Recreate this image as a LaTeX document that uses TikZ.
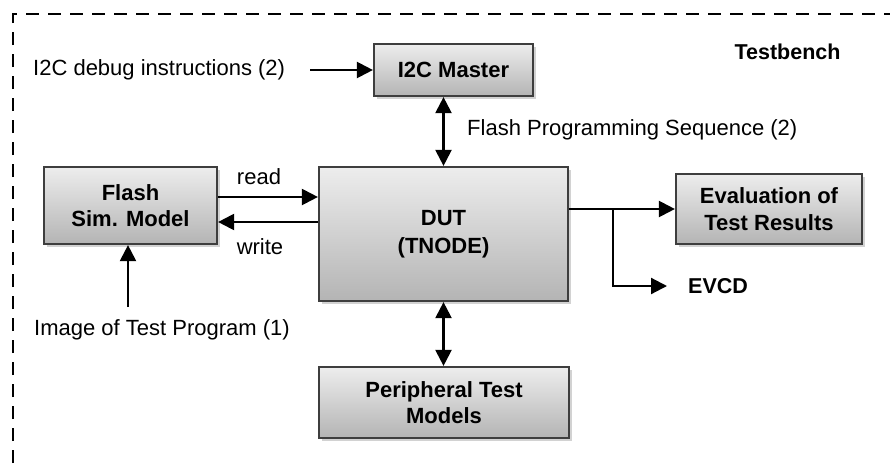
\documentclass[tikz,border=0pt]{standalone}
\usepackage{fontspec}
\setmainfont{Liberation Sans}
\usetikzlibrary{arrows.meta,shadows}
\definecolor{boxtop}{HTML}{EDEDED}
\definecolor{boxbot}{HTML}{B4B4B4}
\definecolor{boxline}{HTML}{3E3E3E}
\begin{document}
\begin{tikzpicture}[x=1pt,y=-1pt,
  box/.style={draw=boxline, line width=2.2pt, top color=boxtop, bottom color=boxbot,
    drop shadow={shadow xshift=2.5pt,shadow yshift=-2.5pt,opacity=0.35},
    font=\bfseries\fontsize{22}{26.5}\selectfont, align=center, inner sep=0pt},
  arr/.style={line width=2.2pt, -{Triangle[length=16pt,width=16pt]}},
  darr/.style={line width=2.2pt, {Triangle[length=16pt,width=16pt]}-{Triangle[length=16pt,width=16pt]}},
  lbl/.style={font=\fontsize{22}{26}\selectfont, inner sep=0pt},
  blbl/.style={font=\bfseries\fontsize{21.5}{26}\selectfont, inner sep=0pt}]
\useasboundingbox (0,0) rectangle (890,463);
\fill[white] (0,0) rectangle (890,463);
% testbench border (right and bottom edges lie outside the picture)
\draw[line width=2.2pt, dash pattern=on 13pt off 9pt] (13,463) -- (13,14) -- (890,14);

% boxes
\node[box, minimum width=159pt, minimum height=52pt] (i2c) at (453.5,70) {I2C Master};
\node[box, minimum width=173pt, minimum height=77pt] (flash) at (130.5,205.5) {Flash\\Sim. Model};
\node[box, minimum width=249pt, minimum height=134pt, font=\bfseries\fontsize{22}{28}\selectfont] (dut) at (443.5,234) {DUT\\(TNODE)};
\node[box, minimum width=186pt, minimum height=70pt] (eval) at (769,209) {Evaluation of\\Test Results};
\node[box, minimum width=250pt, minimum height=71pt] (per) at (444,402.5) {Peripheral Test\\Models};

% labels
\node[lbl, anchor=west] (dbgtxt) at (33,70) {I2C debug instructions (2)};
\node[blbl] (tb) at (787.5,52) {Testbench};
\node[lbl, anchor=west] (fps) at (467,130) {Flash Programming Sequence (2)};
\node[lbl] (imgtxt) at (162,330) {Image of Test Program (1)};
\node[lbl] (read) at (259,177) {read};
\node[lbl] (write) at (260,247) {write};
\node[blbl, anchor=west] (evcd) at (688,286) {EVCD};

% connectors
\coordinate (dbg) at (310,70);
\draw[arr] (dbg) -- (i2c.west |- dbg);
\coordinate (img) at (128,307);
\draw[arr] (img) -- (img |- flash.south);
\draw[arr] (flash.east |- 0,197) -- (dut.west |- 0,197);
\draw[arr] (dut.west |- 0,222) -- (flash.east |- 0,222);
\draw[darr] (dut.north) -- (dut.north |- i2c.south);
\draw[darr] (dut.south) -- (dut.south |- per.north);
\draw[arr] (dut.east |- eval.west) -- (eval.west);
\coordinate (br) at (613,209);
\coordinate (ev) at (667,286);
\draw[arr] (br) |- (ev);
\end{tikzpicture}
\end{document}
